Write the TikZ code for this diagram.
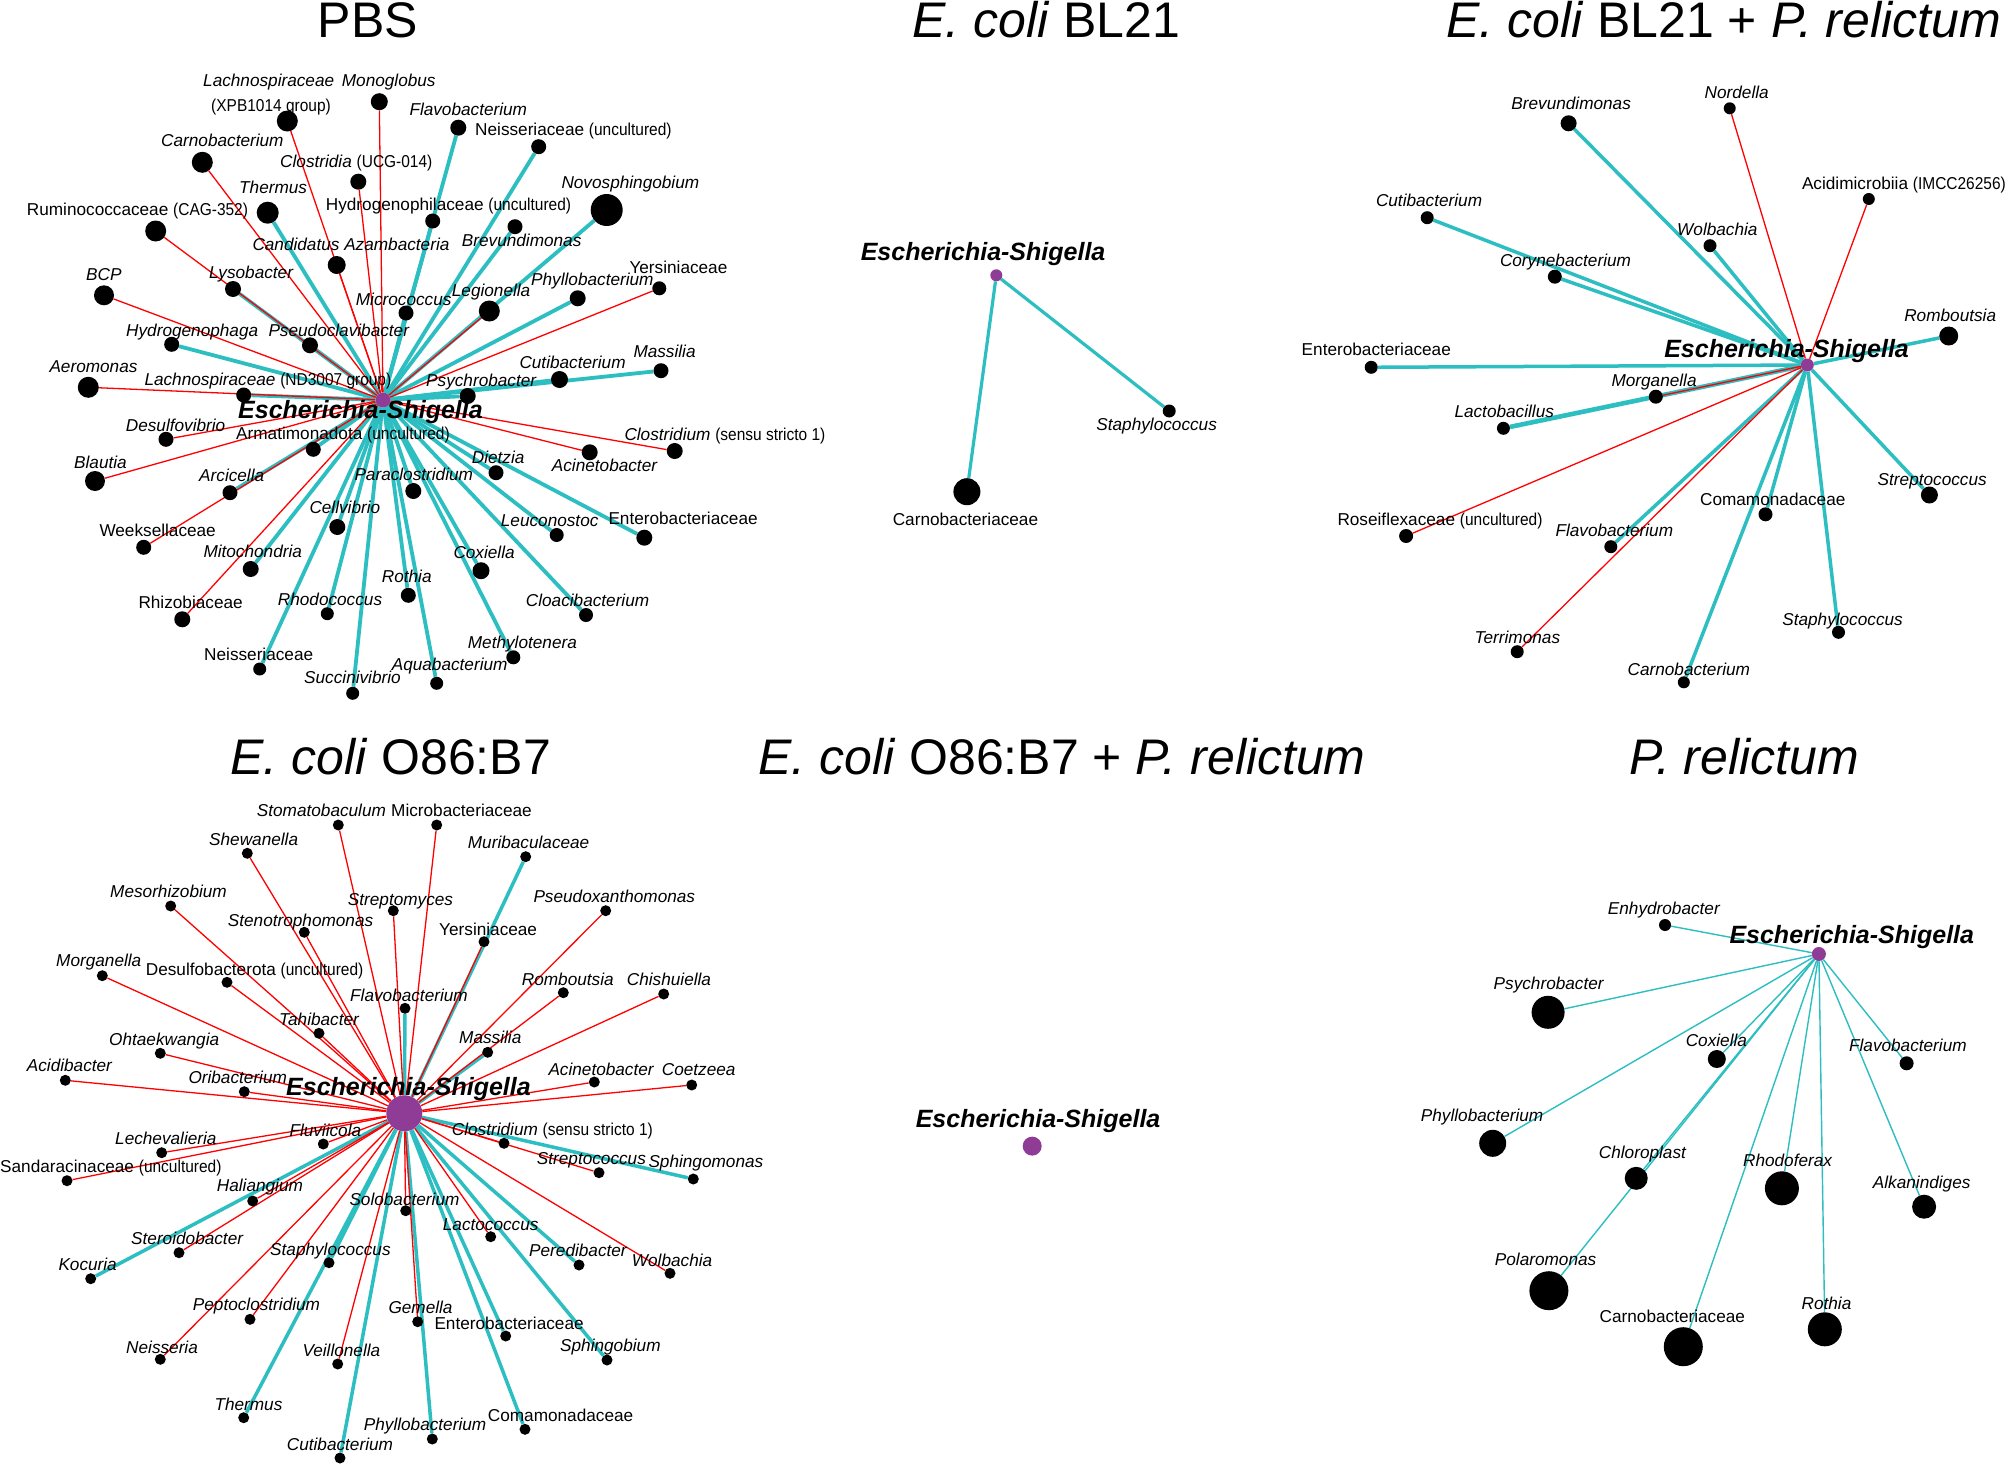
\documentclass[tikz,border=0pt]{standalone}
\usepackage{fontspec}
\setmainfont{Liberation Sans}
\newfontfamily\condf[FakeStretch=0.9]{Liberation Sans}
\pgfdeclarelayer{bg}
\pgfsetlayers{bg,main}
\definecolor{tealc}{RGB}{44,190,192}
\definecolor{hubc}{RGB}{142,60,150}
\newcommand\pr[1]{{\condf #1}}
\newcommand\ti[1]{\textit{#1}}
\tikzset{
  dot/.style={circle,fill=black,inner sep=0pt,draw=none},
  hubdot/.style={circle,fill=hubc,inner sep=0pt,draw=none},
  lab/.style={inner sep=0pt,anchor=base west,font=\fontsize{17.2}{18}\selectfont},
  hlab/.style={inner sep=0pt,anchor=base west,font=\fontsize{25}{26}\selectfont\bfseries\itshape},
  ttl/.style={inner sep=0pt,anchor=base west,font=\fontsize{50}{52}\selectfont},
  posedge/.style={draw=tealc,line width=3.8pt},
  negedge/.style={draw=red,line width=1.3pt},
  posmid/.style={draw=tealc,line width=3.2pt},
  posthr/.style={draw=tealc,line width=3.5pt},
  posfat/.style={draw=tealc,line width=4.6pt},
  posthin/.style={draw=tealc,line width=1.4pt},
}
\newcommand\tx[5]{\node[dot,minimum size=#3pt] (#1) at (#2) {};\node[lab] (#1l) at (#4) {#5};}
\begin{document}
\begin{tikzpicture}[x=1pt,y=-1pt]
\begin{pgfonlayer}{bg}
\fill[white] (0,0) rectangle (2008,1464);
\end{pgfonlayer}
\useasboundingbox (0,0) rectangle (2008,1464);
% titles
\node[ttl,anchor=base] (t1) at (368,38) {PBS};
\node[ttl] (t2) at (912,38) {\ti{E. coli} BL21};
\node[ttl] (t3) at (1446,38) {\ti{E. coli} BL21 + \ti{P. relictum}};
\node[ttl] (t4) at (230,774) {\ti{E. coli} O86:B7};
\node[ttl] (t5) at (758,774) {\ti{E. coli} O86:B7 + \ti{P. relictum}};
\node[ttl] (t6) at (1629,774) {\ti{P. relictum}};

% ================= PBS =================
\node[hubdot,minimum size=15pt] (a0) at (383,400) {};
\node[hlab] (a0l) at (238,418) {Escherichia-Shigella};
\node[dot,minimum size=21pt] (a01) at (287.3,121) {};
\node[lab] (a01l) at (203,87) {\ti{Lachnospiraceae}};
\node[lab] (a01m) at (211,111) {\pr{(XPB1014 group)}};
\tx{a02}{379.3,101.7}{17}{341.7,87}{\ti{Monoglobus}}
\tx{a03}{202.3,162.3}{21}{161,146.7}{\ti{Carnobacterium}}
\tx{a04}{358.3,181.7}{16}{280,167.7}{\ti{Clostridia} \pr{(UCG-014)}}
\tx{a05}{267.7,212.7}{22}{239,193.3}{\ti{Thermus}}
\tx{a06}{432.7,221}{15}{325.7,210}{Hydrogenophilaceae \pr{(uncultured)}}
\tx{a07}{155.7,231}{21}{26.7,215}{Ruminococcaceae \pr{(CAG-352)}}
\tx{a08}{336.7,265}{18}{252.3,250}{\ti{Candidatus Azambacteria}}
\tx{a09}{104,295.3}{20}{86,280.7}{\ti{BCP}}
\tx{a10}{233,289}{16}{209,278.3}{\ti{Lysobacter}}
\tx{a11}{171.7,344.3}{15}{126,336}{\ti{Hydrogenophaga}}
\tx{a12}{310,345.3}{16}{268.3,336}{\ti{Pseudoclavibacter}}
\tx{a13}{406,313}{15}{355.7,305.7}{\ti{Micrococcus}}
\tx{a14}{88.3,387.3}{21}{49.3,372.7}{\ti{Aeromonas}}
\tx{a15}{243.7,395}{15}{144.3,385}{\ti{Lachnospiraceae} \pr{(ND3007 group)}}
\tx{a16}{166,439.3}{15}{125.7,431.7}{\ti{Desulfovibrio}}
\tx{a17}{313.3,449.3}{15}{236,439.3}{Armatimonadota \pr{(uncultured)}}
\tx{a18}{95,481}{20}{74,468.3}{\ti{Blautia}}
\tx{a19}{230,492.7}{15}{199,481}{\ti{Arcicella}}
\tx{a20}{143.7,547.3}{15}{99.3,536.7}{Weeksellaceae}
\tx{a21}{250.7,569}{16}{203.3,557.3}{\ti{Mitochondria}}
\tx{a22}{182.3,619.3}{16}{138.3,608.3}{Rhizobiaceae}
\tx{a23}{337.3,527}{16}{309.3,513.3}{\ti{Cellvibrio}}
\tx{a24}{327.3,613.7}{13}{277.7,605}{\ti{Rhodococcus}}
\tx{a25}{259.7,669}{13}{204,660}{Neisseriaceae}
\tx{a26}{352.7,693.3}{13}{304,683.3}{\ti{Succinivibrio}}
\tx{a27}{408.3,595.3}{15}{381.7,582.7}{\ti{Rothia}}
\tx{a28}{413.3,491}{16}{354.3,480}{\ti{Paraclostridium}}
\tx{a29}{436.7,683.3}{13}{391.6,670}{\ti{Aquabacterium}}
\tx{a30}{513.3,657.3}{14}{467.7,648.3}{\ti{Methylotenera}}
\tx{a31}{481,570.7}{17}{453.3,558.3}{\ti{Coxiella}}
\tx{a32}{586,615}{14}{525.7,606.7}{\ti{Cloacibacterium}}
\tx{a33}{556.7,535}{14}{500.7,526.7}{\ti{Leuconostoc}}
\tx{a34}{644.3,537.7}{16}{608.3,524.3}{Enterobacteriaceae}
\tx{a35}{496,472.7}{15}{471.7,463.3}{\ti{Dietzia}}
\tx{a36}{589.7,452.3}{16}{551.7,471.7}{\ti{Acinetobacter}}
\tx{a37}{674.7,451}{16}{624.3,440}{\ti{Clostridium} \pr{(sensu stricto 1)}}
\tx{a38}{467.7,396}{16}{426,386.7}{\ti{Psychrobacter}}
\tx{a39}{559.5,379.5}{17}{519.3,368.3}{\ti{Cutibacterium}}
\tx{a40}{661,370.7}{15}{633.3,357.3}{\ti{Massilia}}
\tx{a41}{659.3,288.3}{14}{629.3,273.3}{Yersiniaceae}
\tx{a42}{577.7,298.3}{16}{531,285}{\ti{Phyllobacterium}}
\tx{a43}{489.3,311}{21}{451.7,296}{\ti{Legionella}}
\tx{a44}{606.7,210}{32}{561.3,188.3}{\ti{Novosphingobium}}
\tx{a45}{515,226.7}{15}{461.7,246}{\ti{Brevundimonas}}
\tx{a46}{538.7,146.7}{15}{475,135}{Neisseriaceae \pr{(uncultured)}}
\tx{a47}{458.3,127.7}{16}{409.3,115}{\ti{Flavobacterium}}

% ================= BL21 =================
\node[hubdot,minimum size=12pt] (b0) at (996.3,275.3) {};
\node[hlab] (b0l) at (860.6,260) {Escherichia-Shigella};
\tx{b1}{1169.2,411}{13}{1096.2,430.3}{\ti{Staphylococcus}}
\tx{b2}{966.9,491.7}{27}{892.6,525}{Carnobacteriaceae}

% ================= BL21 + P. relictum =================
\node[hubdot,minimum size=13pt] (c0) at (1807.3,365) {};
\node[hlab] (c0l) at (1664.1,357.3) {Escherichia-Shigella};
\tx{c01}{1568.6,123.3}{16}{1511.2,110}{\ti{Brevundimonas}}
\tx{c02}{1729.7,108.3}{12}{1704.5,98.3}{\ti{Nordella}}
\tx{c03}{1868.8,199}{12}{1801.8,189.3}{Acidimicrobiia \pr{(IMCC26256)}}
\tx{c04}{1427.2,217.7}{13}{1375.8,206.7}{\ti{Cutibacterium}}
\tx{c05}{1710,245.7}{13}{1677,235}{\ti{Wolbachia}}
\tx{c06}{1554.8,276.7}{14}{1499.8,266.7}{\ti{Corynebacterium}}
\tx{c07}{1948.7,336}{19}{1904.1,321.7}{\ti{Romboutsia}}
\tx{c08}{1371.2,367.3}{13}{1301.5,355}{Enterobacteriaceae}
\tx{c09}{1655.8,396.7}{14}{1611.3,386}{\ti{Morganella}}
\tx{c10}{1503.4,428.3}{13}{1454.3,417.3}{\ti{Lactobacillus}}
\tx{c11}{1406.1,536}{14}{1337.3,525.7}{Roseiflexaceae \pr{(uncultured)}}
\tx{c12}{1610.8,546.7}{13}{1555.3,536.7}{\ti{Flavobacterium}}
\tx{c13}{1517.2,651.7}{13}{1474.5,643.3}{\ti{Terrimonas}}
\tx{c14}{1683.8,682.3}{12}{1627.4,675}{\ti{Carnobacterium}}
\tx{c15}{1765.5,514.3}{14}{1699.9,505}{Comamonadaceae}
\tx{c16}{1838.5,632.3}{13}{1782.1,625}{\ti{Staphylococcus}}
\tx{c17}{1929.4,495}{17}{1877.5,485}{\ti{Streptococcus}}

% ================= O86:B7 =================
\node[hubdot,minimum size=36pt] (d0) at (404.3,1113.3) {};
\node[hlab] (d0l) at (286,1095) {Escherichia-Shigella};
\tx{d01}{338.3,825}{11}{256.7,816.7}{\ti{Stomatobaculum}}
\tx{d02}{436.7,825}{11}{391,816.7}{Microbacteriaceae}
\tx{d03}{247.3,853.3}{11}{209,845}{\ti{Shewanella}}
\tx{d04}{525.7,856.7}{11}{467.7,848.3}{\ti{Muribaculaceae}}
\tx{d05}{170.7,906}{11}{110,897.3}{\ti{Mesorhizobium}}
\tx{d06}{393.3,910.7}{11}{347.7,905}{\ti{Streptomyces}}
\tx{d07}{605.7,910.7}{11}{533.3,902.3}{\ti{Pseudoxanthomonas}}
\tx{d08}{304.3,932.3}{11}{227.7,926}{\ti{Stenotrophomonas}}
\tx{d09}{484,941.7}{11}{439,935.7}{Yersiniaceae}
\tx{d10}{102.3,975.7}{11}{56,966.7}{\ti{Morganella}}
\tx{d11}{227,982.3}{11}{145.7,975}{Desulfobacterota \pr{(uncultured)}}
\tx{d12}{405,1008.3}{11}{350,1001.7}{\ti{Flavobacterium}}
\tx{d13}{563.3,992.7}{11}{521.7,985}{\ti{Romboutsia}}
\tx{d14}{663.7,994}{11}{626.7,985}{\ti{Chishuiella}}
\tx{d15}{319,1033.3}{11}{279,1025}{\ti{Tahibacter}}
\tx{d16}{487.7,1052.3}{11}{459,1043.3}{\ti{Massilia}}
\tx{d17}{160.3,1053.3}{11}{109,1045}{\ti{Ohtaekwangia}}
\tx{d18}{65.3,1080.3}{11}{26.7,1071.7}{\ti{Acidibacter}}
\tx{d19}{244.3,1091.7}{11}{188.3,1083.3}{\ti{Oribacterium}}
\tx{d20}{594.3,1082}{11}{548.3,1075.7}{\ti{Acinetobacter}}
\tx{d21}{691.7,1085}{11}{661.7,1075.7}{\ti{Coetzeea}}
\tx{d22}{504,1143.3}{11}{451.7,1135}{\ti{Clostridium} \pr{(sensu stricto 1)}}
\tx{d23}{599,1172.7}{11}{536.7,1164}{\ti{Streptococcus}}
\tx{d24}{693.3,1179}{11}{648.3,1167.3}{\ti{Sphingomonas}}
\tx{d25}{161.7,1152.7}{11}{115,1144}{\ti{Lechevalieria}}
\tx{d26}{323.3,1144}{11}{289.3,1136.7}{\ti{Fluviicola}}
\tx{d27}{67,1180.7}{11}{0,1172.7}{Sandaracinaceae \pr{(uncultured)}}
\tx{d28}{252.7,1201}{11}{216.7,1191.7}{\ti{Haliangium}}
\tx{d29}{179,1252.7}{11}{131,1244.3}{\ti{Steroidobacter}}
\tx{d30}{90.7,1278.7}{11}{58.3,1270}{\ti{Kocuria}}
\tx{d31}{329,1262.7}{11}{270,1255}{\ti{Staphylococcus}}
\tx{d32}{250,1319.3}{11}{192.7,1310.7}{\ti{Peptoclostridium}}
\tx{d33}{160.3,1359.3}{11}{126,1353.3}{\ti{Neisseria}}
\tx{d34}{337.7,1364}{11}{302.3,1356.7}{\ti{Veillonella}}
\tx{d35}{243.7,1417.7}{11}{214.3,1410}{\ti{Thermus}}
\tx{d36}{340,1458}{11}{286.7,1450}{\ti{Cutibacterium}}
\tx{d37}{405.7,1210.7}{11}{349.3,1205}{\ti{Solobacterium}}
\tx{d38}{490.7,1236.7}{11}{442.7,1230}{\ti{Lactococcus}}
\tx{d39}{579,1265}{11}{529,1256}{\ti{Peredibacter}}
\tx{d40}{670,1273.3}{11}{631.7,1266.7}{\ti{Wolbachia}}
\tx{d41}{417.7,1321.7}{11}{388.3,1313.3}{\ti{Gemella}}
\tx{d42}{505.7,1336}{11}{434.3,1329.3}{Enterobacteriaceae}
\tx{d43}{607,1360}{11}{560,1351}{\ti{Sphingobium}}
\tx{d44}{525,1429.3}{11}{487.7,1421.7}{Comamonadaceae}
\tx{d45}{432.3,1439}{11}{363.7,1430}{\ti{Phyllobacterium}}

% ================= O86:B7 + P. relictum =================
\node[hubdot,minimum size=19pt] (m0) at (1032.2,1146.1) {};
\node[hlab] (m0l) at (915.6,1127) {Escherichia-Shigella};

% ================= P. relictum =================
\node[hubdot,minimum size=14pt] (e0) at (1818.9,954) {};
\node[hlab] (e0l) at (1729.3,943.3) {Escherichia-Shigella};
\tx{e01}{1665,925}{12}{1607.7,914}{\ti{Enhydrobacter}}
\tx{e02}{1548.1,1012.3}{33}{1493.5,989.3}{\ti{Psychrobacter}}
\tx{e03}{1716.8,1059}{18}{1685.6,1046.7}{\ti{Coxiella}}
\tx{e04}{1906.6,1063.3}{14}{1848.9,1051.7}{\ti{Flavobacterium}}
\tx{e05}{1492.7,1143.3}{27}{1420.7,1121.7}{\ti{Phyllobacterium}}
\tx{e06}{1636.2,1178.3}{23}{1598.7,1158.3}{\ti{Chloroplast}}
\tx{e07}{1781.9,1188.3}{34}{1742.9,1166}{\ti{Rhodoferax}}
\tx{e08}{1924.1,1206.7}{24}{1872.7,1188.3}{\ti{Alkanindiges}}
\tx{e09}{1548.9,1290.7}{39}{1494.7,1265}{\ti{Polaromonas}}
\tx{e10}{1683.3,1346.7}{39}{1599.5,1322.7}{Carnobacteriaceae}
\tx{e11}{1824.8,1329.3}{34}{1801.4,1309.3}{\ti{Rothia}}

% ================= edges =================
\begin{pgfonlayer}{bg}
\foreach \n in {a05,a06,a10,a11,a12,a13,a15,a17,a19,a21,a23,a24,a25,a26,a27,a28,a29,a30,a31,a32,a33,a34,a35,a38,a39,a40,a42,a44,a45,a46,a47}
  \draw[posedge] (a0) -- (\n);
\foreach \n in {a01,a02,a03,a04,a07,a08,a09,a14,a16,a18,a20,a22,a36,a37,a41,a43}
  \draw[negedge] (a0) -- (\n);
\draw[posmid] (b0) -- (b1);
\draw[posmid] (b0) -- (b2);
\foreach \n in {c01,c04,c05,c06,c07,c08,c12,c14,c15,c16,c17}
  \draw[posthr] (c0) -- (\n);
\draw[posfat] (c0) -- (c10);
\foreach \n in {c02,c03,c09,c11,c13}
  \draw[negedge] (c0) -- (\n);
\foreach \n in {d04,d12,d16,d24,d30,d31,d35,d36,d39,d42,d43,d44,d45}
  \draw[posthr] (d0) -- (\n);
\foreach \n in {d01,d02,d03,d05,d06,d07,d08,d09,d10,d11,d13,d14,d15,d17,d18,d19,d20,d21,d22,d23,d25,d26,d27,d28,d29,d32,d33,d34,d37,d38,d40,d41}
  \draw[negedge] (d0) -- (\n);
\foreach \n in {e01,e02,e03,e04,e05,e06,e07,e08,e09,e10,e11}
  \draw[posthin] (e0) -- (\n);
\end{pgfonlayer}
\end{tikzpicture}
\end{document}
